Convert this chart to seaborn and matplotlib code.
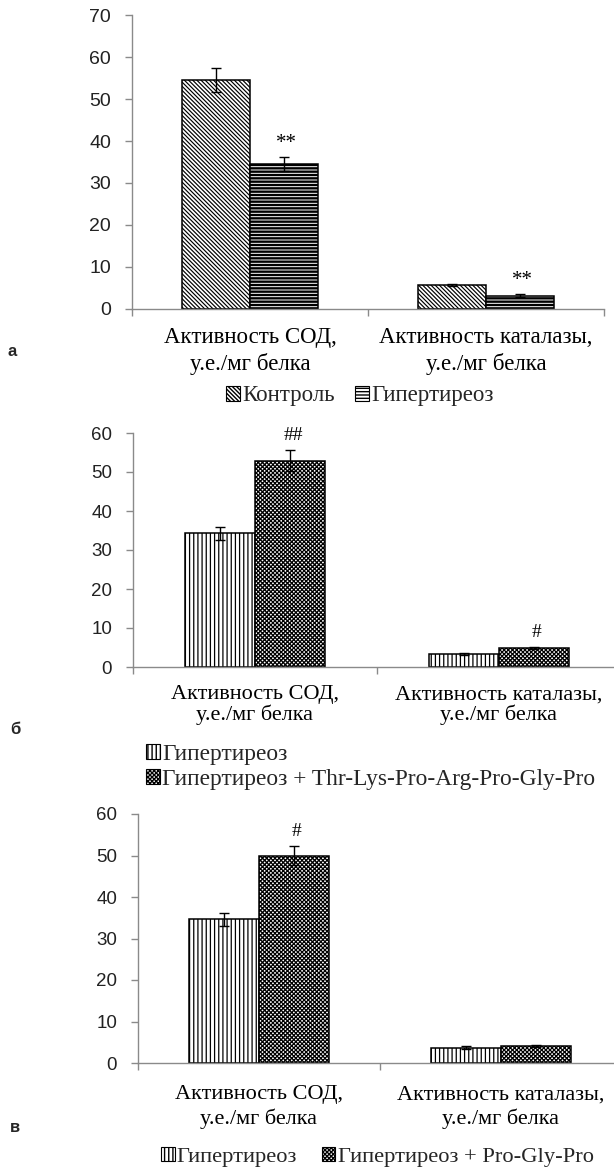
import numpy as np
import pandas as pd
import matplotlib
matplotlib.use("Agg")
import matplotlib.pyplot as plt
import seaborn as sns
from matplotlib.patches import Patch

# Category labels shared by all three panels
categories = ["Активность СОД,\nу.е./мг белка", "Активность каталазы,\nу.е./мг белка"]

# Panel а: control vs hyperthyroidism
labels_a = ["Контроль", "Гипертиреоз"]
control_a = [54.5, 5.7]
control_a_err = [2.8, 0.2]
hyper_a = [34.5, 3.2]
hyper_a_err = [1.6, 0.3]
marks_a = ["**", "**"]

# Panel б: hyperthyroidism vs hyperthyroidism + Thr-Lys-Pro-Arg-Pro-Gly-Pro
labels_b = ["Гипертиреоз", "Гипертиреоз + Thr-Lys-Pro-Arg-Pro-Gly-Pro"]
hyper_b = [34.3, 3.3]
hyper_b_err = [1.7, 0.2]
kpr_b = [52.9, 4.9]
kpr_b_err = [2.7, 0.3]
marks_b = ["##", "#"]

# Panel в: hyperthyroidism vs hyperthyroidism + Pro-Gly-Pro
labels_c = ["Гипертиреоз", "Гипертиреоз + Pro-Gly-Pro"]
hyper_c = [34.6, 3.7]
hyper_c_err = [1.6, 0.3]
pgp_c = [50.0, 4.1]
pgp_c_err = [2.3, 0.2]
marks_c = ["#", ""]

sns.set_theme(style="white")
plt.rcParams["font.family"] = ["Liberation Serif", "DejaVu Serif"]
plt.rcParams["hatch.color"] = "black"
plt.rcParams["hatch.linewidth"] = 1.0

SERIF = ["Liberation Serif", "DejaVu Serif"]
SANS = ["Liberation Sans", "DejaVu Sans"]
AXIS_GREY = "#8a8a8a"

# hatch pattern and hatch line width for each series style
HATCH = {
    "control": ("\\" * 8, 0.85),
    "hlines": ("-" * 5, 1.7),
    "vlines": ("|" * 4, 0.9),
    "cross": ("x" * 8, 0.9),
}

fig = plt.figure(figsize=(6.14, 11.70), dpi=100)
W, H = 614, 1170


def px_axes(left, right, top, bottom):
    return fig.add_axes([left / W, 1 - bottom / H, (right - left) / W, (bottom - top) / H])


def draw_panel(ax, groups, values, errors, styles, marks, ymax,
               tick_fs, cat_fs, cat_pad, cat_ls, mark_fs):
    rows = []
    for g, vals in zip(groups, values):
        for c, v in zip(categories, vals):
            rows.append({"category": c, "group": g, "value": v})
    df = pd.DataFrame(rows)
    sns.barplot(data=df, x="category", y="value", hue="group",
                order=categories, hue_order=groups,
                palette=["white"] * len(groups), saturation=1,
                width=0.576, gap=0, errorbar=None, legend=False,
                edgecolor="black", linewidth=1.1, ax=ax)
    bar_containers = list(ax.containers)
    for cont, style in zip(bar_containers, styles):
        hatch, hlw = HATCH[style]
        for p in cont.patches:
            p.set_hatch(hatch)
            if hasattr(p, "set_hatch_linewidth"):
                p.set_hatch_linewidth(hlw)
    # error bars
    for cont, errs in zip(bar_containers, errors):
        for p, e in zip(cont.patches, errs):
            xc = p.get_x() + p.get_width() / 2
            ax.errorbar(xc, p.get_height(), yerr=e, fmt="none",
                        ecolor="black", elinewidth=1.0, capsize=3.5,
                        capthick=1.0, zorder=5)
    # significance marks above the treated series
    last = bar_containers[-1]
    for p, e, m in zip(last.patches, errors[-1], marks):
        if not m:
            continue
        xc = p.get_x() + p.get_width() / 2
        ax.annotate(m, (xc, p.get_height() + e), xytext=(2, 7),
                    textcoords="offset points", ha="center", va="baseline",
                    fontsize=mark_fs, family=SERIF, color="black")

    ax.set_xlim(-0.5, 1.5)
    ax.set_ylim(0, ymax)
    ax.set_yticks(np.arange(0, ymax + 1, 10))
    ax.set_xticks([0, 1])
    ax.set_xticklabels(categories, family=SERIF, fontsize=cat_fs,
                       linespacing=cat_ls)
    ax.set_xticks([-0.5, 0.5, 1.5], minor=True)
    ax.tick_params(axis="x", which="major", length=0, pad=cat_pad, colors="black")
    ax.tick_params(axis="x", which="minor", length=5, width=1, color=AXIS_GREY,
                   direction="out", bottom=True)
    ax.tick_params(axis="y", length=5, width=1, color=AXIS_GREY, direction="out",
                   left=True, pad=10, labelsize=tick_fs, labelcolor="#222222")
    for lab in ax.get_yticklabels():
        lab.set_family(SANS)
    ax.set_xlabel("")
    ax.set_ylabel("")
    for s in ("top", "right"):
        ax.spines[s].set_visible(False)
    for s in ("left", "bottom"):
        ax.spines[s].set_color(AXIS_GREY)
        ax.spines[s].set_linewidth(1.0)
    ax.grid(False)
    return bar_containers


def legend_handles(styles):
    hs = []
    for st in styles:
        hatch, hlw = HATCH[st]
        h = Patch(facecolor="white", edgecolor="black", hatch=hatch, linewidth=0.8)
        if hasattr(h, "set_hatch_linewidth"):
            h.set_hatch_linewidth(min(hlw, 1.0))
        hs.append(h)
    return hs


# ---- panel а ----
ax_a = px_axes(132, 604, 15, 309)
draw_panel(ax_a, labels_a, [control_a, hyper_a], [control_a_err, hyper_a_err],
           ["control", "hlines"], marks_a, 70, 14, 16.5, 13, 1.3, 15)
ax_a.legend(handles=legend_handles(["control", "hlines"]), labels=labels_a,
            loc="center", bbox_to_anchor=(360 / W, 1 - 396 / H),
            bbox_transform=fig.transFigure, ncol=2, frameon=False,
            prop={"family": SERIF, "size": 16.5}, handlelength=0.6,
            handleheight=0.6, handletextpad=0.1, columnspacing=0.9,
            borderpad=0)
fig.text(8 / W, 1 - 352 / H, "а", family=SANS, weight="bold", fontsize=12,
         va="center", ha="left")

# ---- panel б ----
ax_b = px_axes(133, 621, 433, 667)
draw_panel(ax_b, labels_b, [hyper_b, kpr_b], [hyper_b_err, kpr_b_err],
           ["vlines", "cross"], marks_b, 60, 13.5, 16, 13, 1.05, 14)
ax_b.legend(handles=legend_handles(["vlines", "cross"]), labels=labels_b,
            loc="upper left", bbox_to_anchor=(146 / W, 1 - 744 / H),
            bbox_transform=fig.transFigure, ncol=1, frameon=False,
            prop={"family": SERIF, "size": 16.8}, handlelength=0.6,
            handleheight=0.6, handletextpad=0.1, labelspacing=0.15,
            borderpad=0, borderaxespad=0)
fig.text(10 / W, 1 - 730 / H, "б", family=SANS, weight="bold", fontsize=12,
         va="center", ha="left")

# ---- panel в ----
ax_c = px_axes(138, 622, 814, 1063)
draw_panel(ax_c, labels_c, [hyper_c, pgp_c], [hyper_c_err, pgp_c_err],
           ["vlines", "cross"], marks_c, 60, 13.5, 16, 16, 1.25, 14)
ax_c.legend(handles=legend_handles(["vlines", "cross"]), labels=labels_c,
            loc="center left", bbox_to_anchor=(161 / W, 1 - 1157 / H),
            bbox_transform=fig.transFigure, ncol=2, frameon=False,
            prop={"family": SERIF, "size": 16.2}, handlelength=0.6,
            handleheight=0.6, handletextpad=0.1, columnspacing=1.1,
            borderpad=0, borderaxespad=0)
fig.text(10 / W, 1 - 1128 / H, "в", family=SANS, weight="bold", fontsize=12,
         va="center", ha="left")

fig.savefig("out.png", dpi=100)
